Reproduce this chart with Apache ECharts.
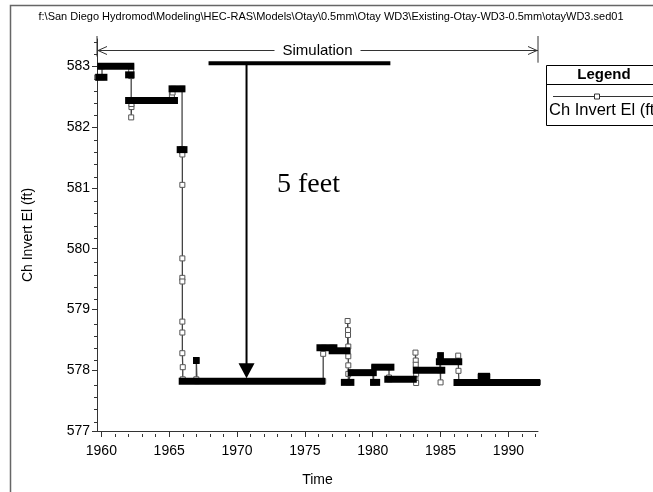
<!DOCTYPE html>
<html><head><meta charset="utf-8">
<script src="https://cdn.jsdelivr.net/npm/echarts@6/dist/echarts.min.js"></script>
<style>html,body{margin:0;padding:0;background:#fff}#c{width:653px;height:492px}</style>
</head><body><div id="c"></div>
<script>
// ---- axis ranges & tick labels ----
const xMin = 1959.68, xMax = 1992.18;
const yMin = 577, yMax = 583.45;
const xLabelYears = [1960, 1965, 1970, 1975, 1980, 1985, 1990];
const xMinorYears = [1960,1961,1962,1963,1964,1965,1966,1967,1968,1969,1970,1971,1972,1973,1974,1975,1976,1977,1978,1979,1980,1981,1982,1983,1984,1985,1986,1987,1988,1989,1990,1991,1992];
const yLabelValues = [577, 578, 579, 580, 581, 582, 583];
const yMinorValues = [577.2,577.4,577.6,577.8,578.2,578.4,578.6,578.8,579.2,579.4,579.6,579.8,580.2,580.4,580.6,580.8,581.2,581.4,581.6,581.8,582.2,582.4,582.6,582.8,583.2,583.4];

// ---- series: Ch Invert El (ft), path through read points ----
const pathYears = [1959.70,1960.05,1960.05,1962.20,1962.20,1962.20,1962.20,1962.22,1962.22,1962.25,1965.20,1965.20,1965.25,1965.30,1965.95,1965.95,1965.95,1965.97,1965.97,1965.97,1965.97,1965.97,1965.97,1965.97,1965.97,1966.00,1966.00,1967.00,1967.00,1967.05,1976.35,1976.35,1976.40,1977.00,1977.00,1978.15,1978.15,1978.18,1978.18,1978.20,1978.20,1978.20,1978.20,1978.20,1978.40,1980.00,1980.05,1980.10,1981.20,1981.20,1981.25,1983.15,1983.15,1983.17,1983.17,1983.20,1983.20,1983.25,1984.95,1984.95,1985.00,1985.00,1986.30,1986.30,1986.32,1986.35,1987.90,1987.95,1988.45,1988.50,1992.18];
const pathValues = [582.82,582.82,583.00,583.00,582.92,582.84,582.16,582.33,582.38,582.44,582.44,582.53,582.57,582.63,582.63,581.64,581.60,581.55,581.05,579.84,579.52,579.46,578.80,578.62,578.28,578.05,577.85,577.85,578.16,577.82,577.82,578.27,578.37,578.37,578.32,578.32,578.81,578.66,578.58,578.39,578.23,578.08,577.94,577.80,577.96,577.96,577.80,578.05,578.05,577.88,577.85,577.85,578.29,578.16,578.09,577.94,577.79,578.00,578.00,578.24,577.80,578.14,578.14,578.24,577.99,577.80,577.80,577.90,577.90,577.80,577.80];

// dense-output periods (overlapping markers form solid bars)
const plateauStart = [1959.70,1959.85,1961.90,1961.90,1965.10,1965.70,1965.85,1976.00,1976.90,1977.80,1978.30,1979.95,1980.05,1981.00,1983.10,1984.80,1986.10,1987.90,1966.90,1984.90];
const plateauEnd   = [1960.30,1962.28,1962.30,1965.50,1966.05,1966.20,1976.35,1977.25,1978.20,1978.50,1980.15,1980.40,1981.45,1983.10,1985.20,1986.45,1992.18,1988.50,1967.10,1985.10];
const plateauLevel = [582.82,583.00,582.86,582.44,582.63,581.63,577.82,578.37,578.32,577.80,577.96,577.80,578.05,577.85,578.00,578.14,577.80,577.90,578.16,578.24];

// annotations
const simLevel = 583.27, simTickBottom = 583.06;
const annoLevel = 583.05, annoStart = 1967.9, annoEnd = 1981.3;
const arrowYear = 1970.7, arrowTip = 577.87;

const titleText = 'f:\\San Diego Hydromod\\Modeling\\HEC-RAS\\Models\\Otay\\0.5mm\\Otay WD3\\Existing-Otay-WD3-0.5mm\\otayWD3.sed01';

const chart = echarts.init(document.getElementById('c'), null, {renderer: 'canvas'});
const FONT = 'Liberation Sans, Arial, sans-serif';
const gridRect = {left: 97, right: 115, top: 39, bottom: 58};

const pathData = pathYears.map((x, i) => [x, pathValues[i]]);
const plateauData = plateauStart.map((s, i) => [s, plateauEnd[i], plateauLevel[i]]);

chart.setOption({
  animation: false,
  backgroundColor: '#fff',
  grid: [Object.assign({}, gridRect), Object.assign({}, gridRect)],
  xAxis: [{
    gridIndex: 0, type: 'value', min: xMin, max: xMax,
    name: 'Time', nameLocation: 'middle', nameGap: 42,
    nameTextStyle: {fontFamily: FONT, fontSize: 14, color: '#000'},
    axisLine: {show: true, lineStyle: {color: '#333', width: 1}},
    axisTick: {show: true, length: 5, lineStyle: {color: '#333'}, customValues: xLabelYears},
    axisLabel: {show: true, customValues: xLabelYears, fontFamily: FONT, fontSize: 14, color: '#000', margin: 13, formatter: v => String(v)},
    splitLine: {show: false}
  }, {
    gridIndex: 1, type: 'value', min: xMin, max: xMax,
    axisLine: {show: false},
    axisTick: {show: true, length: 3, lineStyle: {color: '#333'}, customValues: xMinorYears},
    axisLabel: {show: false}, splitLine: {show: false}
  }],
  yAxis: [{
    gridIndex: 0, type: 'value', min: yMin, max: yMax,
    name: 'Ch Invert El (ft)', nameLocation: 'middle', nameGap: 62, nameRotate: 90,
    nameTextStyle: {fontFamily: FONT, fontSize: 14, color: '#000'},
    axisLine: {show: true, lineStyle: {color: '#333', width: 1}},
    axisTick: {show: true, length: 5, lineStyle: {color: '#333'}, customValues: yLabelValues},
    axisLabel: {show: true, customValues: yLabelValues, fontFamily: FONT, fontSize: 14, color: '#000', margin: 7},
    splitLine: {show: false}
  }, {
    gridIndex: 1, type: 'value', min: yMin, max: yMax,
    axisLine: {show: false},
    axisTick: {show: true, length: 3, lineStyle: {color: '#333'}, customValues: yMinorValues},
    axisLabel: {show: false}, splitLine: {show: false}
  }],
  series: [{
    type: 'line', name: 'Ch Invert El (ft)', xAxisIndex: 0, yAxisIndex: 0,
    data: pathData, showSymbol: true, symbol: 'rect', symbolSize: 5,
    lineStyle: {color: '#444', width: 1.3},
    itemStyle: {color: '#fff', borderColor: '#555', borderWidth: 1},
    z: 2, clip: true
  }, {
    type: 'custom', xAxisIndex: 0, yAxisIndex: 0,
    data: plateauData, encode: {x: [0, 1], y: 2},
    z: 3,
    renderItem: function (params, api) {
      const a = api.coord([api.value(0), api.value(2)]);
      const b = api.coord([api.value(1), api.value(2)]);
      const h = 7;
      const shape = echarts.graphic.clipRectByRect(
        {x: a[0] - 2, y: a[1] - h / 2, width: b[0] - a[0] + 4, height: h},
        {x: params.coordSys.x - 3, y: params.coordSys.y - 10, width: params.coordSys.width + 6, height: params.coordSys.height + 10}
      );
      return shape && {type: 'rect', shape: shape, style: {fill: '#000'}};
    }
  }]
});

function P(x, y) { return chart.convertToPixel({gridIndex: 0}, [x, y]); }

const xl = P(xMin, yMin)[0], xr = P(xMax, yMin)[0];
const yTop = P(xMin, yMax)[1] - 3;
const ySim = Math.round(P(xMin, simLevel)[1]) + 0.5;
const ySimBot = P(xMin, simTickBottom)[1];
const cx = (xl + xr) / 2;
const aL = P(annoStart, annoLevel), aR = P(annoEnd, annoLevel);
const ax = P(arrowYear, annoLevel)[0];
const tipY = P(arrowYear, arrowTip)[1];

const g = [];
// outer frame
g.push({type: 'rect', shape: {x: 10.5, y: 5.5, width: 700, height: 600}, style: {fill: null, stroke: '#666', lineWidth: 1.5}, silent: true, z: 1});
// title
g.push({type: 'text', x: 331, y: 17, style: {text: titleText, fontFamily: FONT, fontSize: 11, fill: '#000', align: 'center', verticalAlign: 'middle'}, z: 10});
// simulation bracket
g.push({type: 'line', shape: {x1: xl, y1: yTop, x2: xl, y2: ySim + 6}, style: {stroke: '#333', lineWidth: 1}, z: 10});
g.push({type: 'line', shape: {x1: xr, y1: yTop, x2: xr, y2: ySimBot}, style: {stroke: '#333', lineWidth: 1}, z: 10});
g.push({type: 'line', shape: {x1: xl, y1: ySim, x2: cx - 43, y2: ySim}, style: {stroke: '#333', lineWidth: 1}, z: 10});
g.push({type: 'line', shape: {x1: cx + 43, y1: ySim, x2: xr, y2: ySim}, style: {stroke: '#333', lineWidth: 1}, z: 10});
g.push({type: 'polyline', shape: {points: [[xl + 10, ySim - 4], [xl + 1, ySim], [xl + 10, ySim + 4]]}, style: {stroke: '#333', lineWidth: 1, fill: null}, z: 10});
g.push({type: 'polyline', shape: {points: [[xr - 10, ySim - 4], [xr - 1, ySim], [xr - 10, ySim + 4]]}, style: {stroke: '#333', lineWidth: 1, fill: null}, z: 10});
g.push({type: 'text', x: cx, y: ySim, style: {text: 'Simulation', fontFamily: FONT, fontSize: 15, fill: '#000', align: 'center', verticalAlign: 'middle'}, z: 10});
// 5 feet annotation
g.push({type: 'rect', shape: {x: aL[0], y: aL[1] - 2, width: aR[0] - aL[0], height: 4}, style: {fill: '#000'}, z: 10});
g.push({type: 'line', shape: {x1: ax, y1: aL[1], x2: ax, y2: tipY - 12}, style: {stroke: '#000', lineWidth: 2}, z: 10});
g.push({type: 'polygon', shape: {points: [[ax - 8, tipY - 15], [ax + 8, tipY - 15], [ax, tipY]]}, style: {fill: '#000'}, z: 10});
g.push({type: 'text', x: 277, y: 185, style: {text: '5 feet', fontFamily: 'Liberation Serif, Times New Roman, serif', fontSize: 28, fill: '#000', align: 'left', verticalAlign: 'middle'}, z: 10});
// legend box
g.push({type: 'rect', shape: {x: 546.5, y: 65.5, width: 120, height: 60}, style: {fill: '#fff', stroke: '#000', lineWidth: 1}, z: 10});
g.push({type: 'line', shape: {x1: 546.5, y1: 84.5, x2: 670, y2: 84.5}, style: {stroke: '#000', lineWidth: 1}, z: 11});
g.push({type: 'text', x: 604, y: 75, style: {text: 'Legend', fontFamily: FONT, fontSize: 15, fontWeight: 'bold', fill: '#000', align: 'center', verticalAlign: 'middle'}, z: 11});
g.push({type: 'line', shape: {x1: 553, y1: 96.5, x2: 653, y2: 96.5}, style: {stroke: '#333', lineWidth: 1}, z: 11});
g.push({type: 'rect', shape: {x: 594.5, y: 94, width: 5, height: 5}, style: {fill: '#fff', stroke: '#333', lineWidth: 1}, z: 12});
g.push({type: 'text', x: 549, y: 110, style: {text: 'Ch Invert El (ft)', fontFamily: FONT, fontSize: 16.5, fill: '#000', align: 'left', verticalAlign: 'middle'}, z: 11});

chart.setOption({graphic: {elements: g}});
</script></body></html>
